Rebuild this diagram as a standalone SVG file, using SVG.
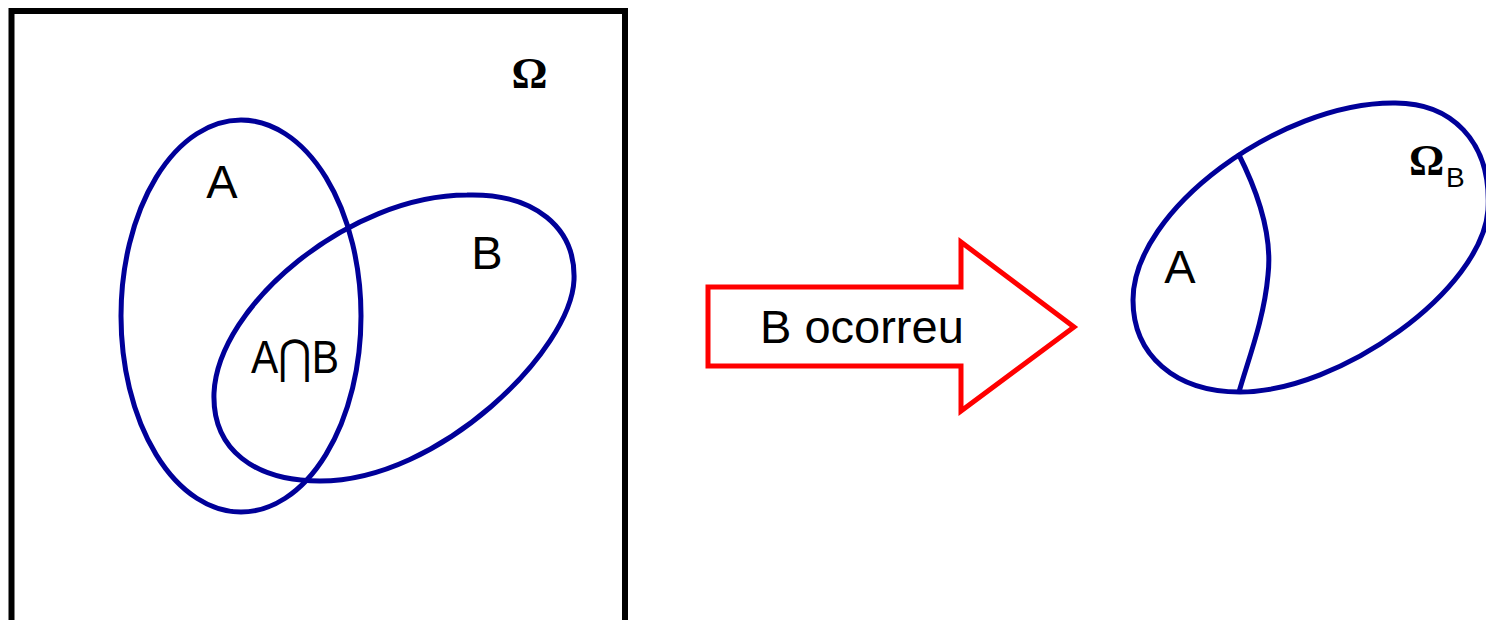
<svg xmlns="http://www.w3.org/2000/svg" width="1486" height="620" viewBox="0 0 1486 620">
<style>
.set{fill:none;stroke:#000099;stroke-width:5}
.lbl{font-family:"Liberation Sans","DejaVu Sans",Arial,sans-serif;font-size:47px;fill:#000}
.sub{font-family:"Liberation Sans",Arial,sans-serif;font-size:28px;fill:#000}
.om{font-family:"Liberation Serif","Times New Roman",serif;font-weight:bold;fill:#000}
</style>
<rect width="1486" height="620" fill="#fff"/>
<g id="omega">
<rect x="11.5" y="11" width="613.5" height="630" fill="none" stroke="#000" stroke-width="6"/>
<text class="om" x="529.5" y="88" font-size="45" text-anchor="middle">Ω</text>
</g>
<g id="setA">
<ellipse class="set" cx="241" cy="316" rx="120" ry="196"/>
<text class="lbl" x="222" y="198" text-anchor="middle">A</text>
</g>
<g id="setB">
<path class="set" d="M467,195 C535,193 576,228 574,280 C571,350 440,481 320,481 C255,481 212,450 214,393 C218,305 350,195 467,195 Z"/>
<text class="lbl" x="487" y="269" text-anchor="middle">B</text>
</g>
<g id="intersection">
<text class="lbl" x="251" y="373" textLength="88" lengthAdjust="spacingAndGlyphs">A⋂B</text>
</g>
<g id="connectors">
<polygon points="708,287 961,287 961,242 1074,327 961,411 961,366 708,366" fill="#fff" stroke="#ff0000" stroke-width="5"/>
<text class="lbl" x="760" y="343">B ocorreu</text>
</g>
<g id="omegaB">
<path class="set" d="M1393,103 C1450,102 1492,140 1488,210 C1482,290 1340,392 1240,392 C1175,392 1133,355 1133,300 C1133,210 1280,103 1393,103 Z"/>
<path class="set" d="M1238,153 C1262,200 1272,240 1268,275 C1264,320 1248,360 1239,392"/>
<text class="lbl" x="1180" y="283" text-anchor="middle">A</text>
<text class="om" x="1409" y="175" font-size="44">Ω</text>
<text class="sub" x="1446" y="187">B</text>
</g>
</svg>
